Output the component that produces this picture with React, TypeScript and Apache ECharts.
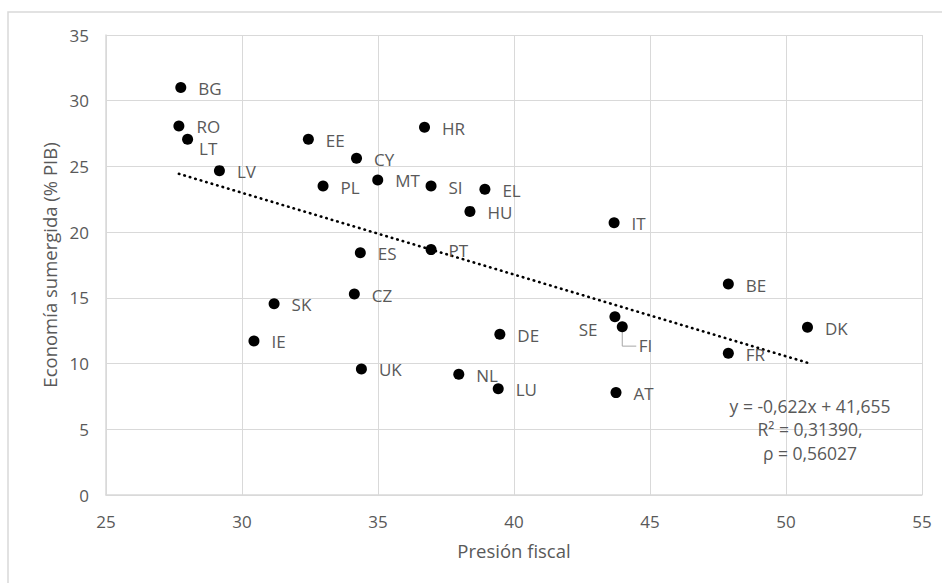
import React, { useEffect, useRef } from "react";
import * as echarts from "echarts";

const countries = ["BG", "RO", "LT", "LV", "EE", "CY", "HR", "PL", "MT", "SI", "EL", "HU", "IT", "ES", "PT", "CZ", "DE", "SE", "FI", "UK", "NL", "LU", "AT", "BE", "DK", "FR", "SK", "IE"];
const presionFiscal = [27.75, 27.68, 28.0, 29.17, 32.44, 34.21, 36.71, 32.98, 34.99, 36.95, 38.93, 38.38, 43.68, 34.35, 36.95, 34.13, 39.48, 43.71, 43.98, 34.39, 37.97, 39.42, 43.75, 47.88, 50.79, 47.88, 31.18, 30.44];
const economiaSumergida = [31.0, 28.08, 27.06, 24.68, 27.06, 25.62, 27.98, 23.51, 23.97, 23.51, 23.26, 21.58, 20.72, 18.44, 18.67, 15.29, 12.23, 13.57, 12.81, 9.59, 9.18, 8.09, 7.79, 16.05, 12.76, 10.78, 14.56, 11.72];

const slope = -0.622;
const intercept = 41.655;
const equationLines = ["y = -0,622x + 41,655", "R² = 0,31390,", "ρ = 0,56027"];

const xTicks = { min: 25, max: 55, interval: 5 };
const yTicks = { min: 0, max: 35, interval: 5 };

const xTitle = "Presión fiscal";
const yTitle = "Economía sumergida (% PIB)";

const FONT = "'Open Sans', 'Noto Sans', sans-serif";
const TEXT = "#595959";
const GRID = "#d9d9d9";

// label placement tweaks (style only)
const labelTweaks: Record<string, any> = {
  LT: { offset: [-6, 9] },
  SE: { position: "left", offset: [0, 13] },
  FI: { offset: [-1, 19] },
};

export default function App() {
  const ref = useRef<HTMLDivElement>(null);
  useEffect(() => {
    const chart = echarts.init(ref.current!, null, { renderer: "svg" });
    const points = countries.map((c, i) => {
      const t = labelTweaks[c] || {};
      return {
        name: c,
        value: [presionFiscal[i], economiaSumergida[i]],
        label: {
          position: t.position || "right",
          offset: t.offset || [0, 1],
        },
      };
    });
    const xMinData = Math.min(...presionFiscal);
    const xMaxData = Math.max(...presionFiscal);
    const trend = [
      [xMinData, slope * xMinData + intercept],
      [xMaxData, slope * xMaxData + intercept],
    ];
    const fiIdx = countries.indexOf("FI");

    const option: any = {
      animation: false,
      backgroundColor: "#fff",
      textStyle: { fontFamily: FONT },
      grid: { left: 106, right: 20, top: 35, bottom: 88, containLabel: false },
      xAxis: {
        type: "value",
        min: xTicks.min,
        max: xTicks.max,
        interval: xTicks.interval,
        name: xTitle,
        nameLocation: "middle",
        nameGap: 46,
        nameTextStyle: { color: TEXT, fontSize: 18.5, fontFamily: FONT },
        axisLine: { show: true, lineStyle: { color: GRID, width: 1.5 } },
        axisTick: { show: false },
        axisLabel: { color: TEXT, fontSize: 17, margin: 18, fontFamily: FONT },
        splitLine: { show: true, lineStyle: { color: GRID, width: 1 } },
      },
      yAxis: {
        type: "value",
        min: yTicks.min,
        max: yTicks.max,
        interval: yTicks.interval,
        name: yTitle,
        nameLocation: "middle",
        nameGap: 46,
        nameTextStyle: { color: TEXT, fontSize: 18.5, fontFamily: FONT },
        axisLine: { show: true, lineStyle: { color: GRID, width: 1.5 } },
        axisTick: { show: false },
        axisLabel: { color: TEXT, fontSize: 17, margin: 17, fontFamily: FONT },
        splitLine: { show: true, lineStyle: { color: GRID, width: 1 } },
      },
      graphic: [
        {
          type: "rect",
          shape: { x: 8, y: 12, width: 1200, height: 1200 },
          style: { fill: "none", stroke: GRID, lineWidth: 1.5 },
          silent: true,
          z: -10,
        },
        {
          type: "text",
          x: 810,
          y: 394,
          style: {
            text: equationLines.join("\n"),
            fill: TEXT,
            font: `17.5px ${FONT}`,
            fontSize: 17.5,
            fontFamily: FONT,
            align: "center",
            verticalAlign: "top",
            lineHeight: 23.5,
          },
          z: 100,
        },
      ],
      series: [
        {
          type: "line",
          data: trend,
          symbol: "none",
          lineStyle: { color: "#000", width: 2.6, type: [0.5, 5.2], cap: "round" },
          silent: true,
          z: 2,
        },
        {
          type: "custom",
          data: [[presionFiscal[fiIdx], economiaSumergida[fiIdx]]],
          renderItem: (params: any, api: any) => {
            const p = api.coord([api.value(0), api.value(1)]);
            return {
              type: "polyline",
              shape: {
                points: [
                  [p[0], p[1] + 5],
                  [p[0], p[1] + 19.5],
                  [p[0] + 14, p[1] + 19.5],
                ],
              },
              style: { stroke: "#a6a6a6", lineWidth: 1, fill: "none" },
            };
          },
          silent: true,
          z: 1,
        },
        {
          type: "scatter",
          data: points,
          symbol: "circle",
          symbolSize: 11,
          itemStyle: { color: "#000", opacity: 1 },
          label: {
            show: true,
            formatter: (p: any) => p.name,
            color: TEXT,
            fontSize: 17,
            fontFamily: FONT,
            distance: 12,
          },
          z: 3,
        },
      ],
    };
    chart.setOption(option);
    return () => chart.dispose();
  }, []);
  return (
    <div
      ref={ref}
      style={{ position: "absolute", left: 0, top: 0, width: 942, height: 583, background: "#fff" }}
    />
  );
}
